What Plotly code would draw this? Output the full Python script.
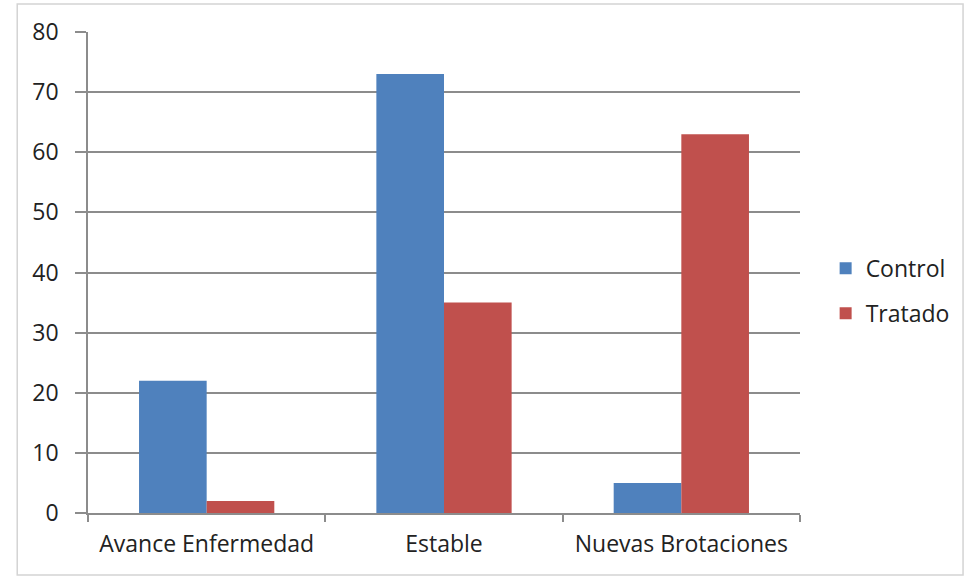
import plotly.graph_objects as go

# Data
categories = ["Avance Enfermedad", "Estable", "Nuevas Brotaciones"]
control = [22, 73, 5]
tratado = [2, 35, 63]
y_ticks = [0, 10, 20, 30, 40, 50, 60, 70, 80]

BLUE = "#4F81BD"
RED = "#C0504D"
GRID = "#8c8c8c"
FONT = "Open Sans"
TEXT = "#222222"
SIZE = 23

fig = go.Figure()
fig.add_trace(go.Bar(name="Control", x=categories, y=control, legendgroup="c",
                     marker=dict(color=BLUE, line=dict(width=0))))
fig.add_trace(go.Bar(name="Tratado", x=categories, y=tratado, legendgroup="t",
                     marker=dict(color=RED, line=dict(width=0))))

fig.update_layout(
    width=967,
    height=577,
    margin=dict(l=88, r=165, t=32, b=64),
    paper_bgcolor="white",
    plot_bgcolor="white",
    barmode="group",
    bargap=0.43,
    bargroupgap=0,
    font=dict(family=FONT, size=SIZE, color=TEXT),
    showlegend=True,
    legend=dict(
        x=1.036, y=0.462, xanchor="left", yanchor="middle",
        font=dict(family=FONT, size=SIZE, color=TEXT),
        itemwidth=30, tracegroupgap=12,
        bgcolor="rgba(0,0,0,0)",
    ),
    xaxis=dict(
        type="category",
        showgrid=False,
        showline=True, linecolor=GRID, linewidth=1.5,
        ticks="outside", tickson="boundaries", ticklen=7, tickcolor=GRID, tickwidth=1.5,
        ticklabelstandoff=10,
        tickfont=dict(family=FONT, size=SIZE, color=TEXT),
        fixedrange=True,
    ),
    yaxis=dict(
        range=[0, 80],
        tickvals=y_ticks,
        showgrid=True, gridcolor=GRID, gridwidth=1.5,
        showline=True, linecolor=GRID, linewidth=1.5,
        ticks="outside", ticklen=11, tickcolor=GRID, tickwidth=1.5,
        ticklabelstandoff=12,
        zeroline=False,
        tickfont=dict(family=FONT, size=SIZE, color=TEXT),
        fixedrange=True,
    ),
    shapes=[
        dict(
            type="rect", xref="paper", yref="paper",
            x0=-0.0994, x1=1.229, y0=-0.129, y1=1.058,
            line=dict(color="#d4d4d4", width=1.5),
            fillcolor="rgba(0,0,0,0)", layer="below",
        )
    ],
)

fig.write_html("out.html", config={"displayModeBar": False})
